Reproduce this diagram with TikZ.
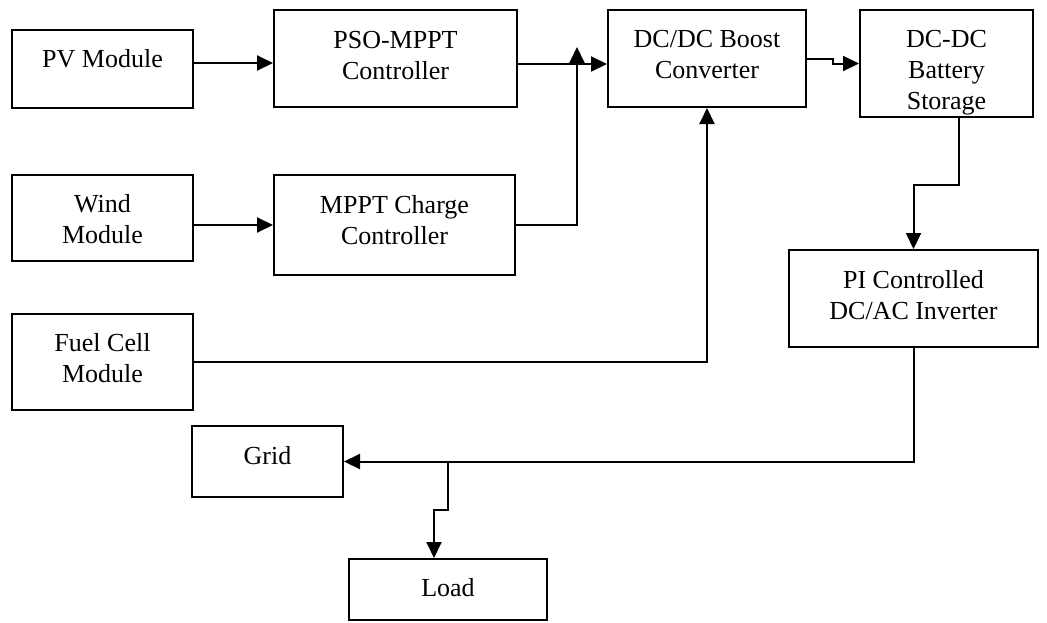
\documentclass[tikz,border=0pt]{standalone}
\usepackage{fontspec}
\setmainfont{Liberation Serif}
\usetikzlibrary{arrows.meta}
\begin{document}
\begin{tikzpicture}[x=1pt,y=-1pt,line width=2pt,
  box/.style={draw,line width=2pt,inner sep=0pt},
  lbl/.style={font=\fontsize{26}{31}\selectfont,align=center,inner sep=0pt},
  flow/.style={-{Triangle[length=16pt,width=15pt]},line width=2pt}]
\useasboundingbox (0,0) rectangle (1047,622);

% blocks
\node[box,minimum width=181pt,minimum height=78pt]  (pv)    at (102.5,69)   {};
\node[box,minimum width=243pt,minimum height=97pt]  (pso)   at (395.5,58.5) {};
\node[box,minimum width=198pt,minimum height=97pt]  (boost) at (707,58.5)   {};
\node[box,minimum width=173pt,minimum height=107pt] (batt)  at (946.5,63.5) {};
\node[box,minimum width=181pt,minimum height=86pt]  (wind)  at (102.5,218)  {};
\node[box,minimum width=241pt,minimum height=100pt] (mppt)  at (394.5,225)  {};
\node[box,minimum width=181pt,minimum height=96pt]  (fuel)  at (102.5,362)  {};
\node[box,minimum width=249pt,minimum height=97pt]  (pi)    at (913.5,298.5){};
\node[box,minimum width=151pt,minimum height=71pt]  (grid)  at (267.5,461.5){};
\node[box,minimum width=198pt,minimum height=61pt]  (load)  at (448,589.5)  {};

% block captions
\node[lbl] (tpv)    at (102.5,59)  {PV Module};
\node[lbl] (tpso)   at (395.5,56)  {PSO-MPPT\\Controller};
\node[lbl] (tboost) at (707,55)    {DC/DC Boost\\Converter};
\node[lbl] (tbatt)  at (946.5,73)  {DC-DC\\Battery\\Storage};
\node[lbl] (twind)  at (102.5,219) {Wind\\Module};
\node[lbl] (tmppt)  at (394.5,220) {MPPT Charge\\Controller};
\node[lbl] (tfuel)  at (102.5,358) {Fuel Cell\\Module};
\node[lbl] (tpi)    at (913.5,295) {PI Controlled\\DC/AC Inverter};
\node[lbl] (tgrid)  at (267.5,456) {Grid};
\node[lbl] (tload)  at (448,588)   {Load};

% junction points
\coordinate (jn)  at (577,47);
\coordinate (tap) at (448,461.5);

% connectors
\draw[flow] ([yshift=6pt]pv.east) -- ([yshift=6pt]pv.east -| pso.west);
\draw[flow] ([yshift=-5.5pt]pso.east) -- ([yshift=-5.5pt]pso.east -| boost.west);
\draw[flow] (wind.east |- mppt.west) -- (mppt.west);
\draw[flow] (mppt.east) -| (jn);
\draw[flow] (fuel.east) -| (boost.south);
\draw[flow] (boost.east) -- ++(26,0) |- (batt.west);
\draw[flow] ([xshift=12.5pt]batt.south) -- ++(0,67) -| (pi.north);
\draw[flow] (pi.south) |- (grid.east);
\draw[flow] (tap) -- ++(0,48.5) -| ([xshift=-14pt]load.north);
\end{tikzpicture}
\end{document}
